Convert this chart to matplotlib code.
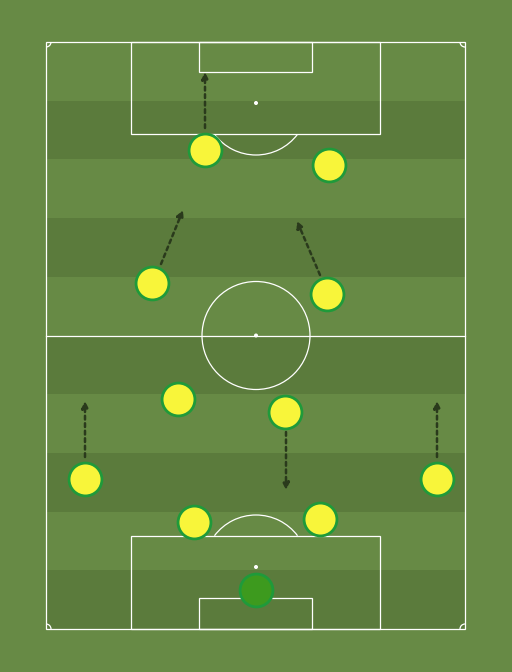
import matplotlib.pyplot as plt
from matplotlib.patches import Rectangle, Circle, Arc

# pitch drawn in pixel-like units (y grows downward)
player_x = [205, 329, 152, 327, 178, 285, 85, 437, 194, 320]
player_y = [150, 165, 283, 294, 399, 412, 479, 479, 522, 519]
keeper_x = [256]
keeper_y = [590]

arrow_start = [(205, 128), (161, 264), (320, 275), (85, 457), (286, 432), (437, 457)]
arrow_end = [(205, 72), (183, 210), (297, 221), (85, 401), (286, 490), (437, 401)]

LIGHT = '#678a45'
DARK = '#5b7b3c'
LINE = 'white'

fig = plt.figure(figsize=(5.12, 6.72), dpi=100)
ax = fig.add_axes([0, 0, 1, 1])
ax.set_xlim(0, 512)
ax.set_ylim(672, 0)
ax.axis('off')
fig.patch.set_facecolor(LIGHT)

left, right, top, bottom = 46, 465, 42, 629
band = (bottom - top) / 10
for i in range(10):
    c = LIGHT if i % 2 == 0 else DARK
    ax.add_patch(Rectangle((left, top + i * band), right - left, band, color=c, lw=0))

lw = 0.9
ax.add_patch(Rectangle((left, top), right - left, bottom - top, fill=False, ec=LINE, lw=lw))
mid = (top + bottom) / 2
ax.plot([left, right], [mid, mid], color=LINE, lw=lw)
ax.add_patch(Circle((256, mid), 54, fill=False, ec=LINE, lw=lw))
ax.add_patch(Circle((256, mid), 1.3, color=LINE))

# top end
ax.add_patch(Rectangle((131, top), 249, 92, fill=False, ec=LINE, lw=lw))
ax.add_patch(Rectangle((199, top), 113, 30, fill=False, ec=LINE, lw=lw))
ax.add_patch(Circle((256, 103), 1.3, color=LINE))
ax.add_patch(Arc((256, 103), 104, 104, theta1=37, theta2=143, ec=LINE, lw=lw))
# bottom end
ax.add_patch(Rectangle((131, bottom - 93), 249, 93, fill=False, ec=LINE, lw=lw))
ax.add_patch(Rectangle((199, bottom - 31), 113, 31, fill=False, ec=LINE, lw=lw))
ax.add_patch(Circle((256, 567), 1.3, color=LINE))
ax.add_patch(Arc((256, 567), 104, 104, theta1=217, theta2=323, ec=LINE, lw=lw))

# corners
for cx, cy, t1 in [(left, top, 0), (right, top, 90), (right, bottom, 180), (left, bottom, 270)]:
    ax.add_patch(Arc((cx, cy), 10, 10, theta1=t1, theta2=t1 + 90, ec=LINE, lw=lw))

for (x0, y0), (x1, y1) in zip(arrow_start, arrow_end):
    ax.annotate('', xy=(x1, y1), xytext=(x0, y0),
                arrowprops=dict(arrowstyle='-|>', linestyle=(0, (1.5, 1.5)), color='#2a3a1c',
                                lw=1.8, mutation_scale=10, shrinkA=0, shrinkB=0))

ax.scatter(player_x, player_y, s=560, c='#f8f53a', edgecolors='#1f9a3a', linewidths=2, zorder=5)
ax.scatter(keeper_x, keeper_y, s=560, c='#3d9a1e', edgecolors='#1f9a3a', linewidths=2, zorder=5)

fig.savefig('out.png', dpi=100, facecolor=LIGHT)
